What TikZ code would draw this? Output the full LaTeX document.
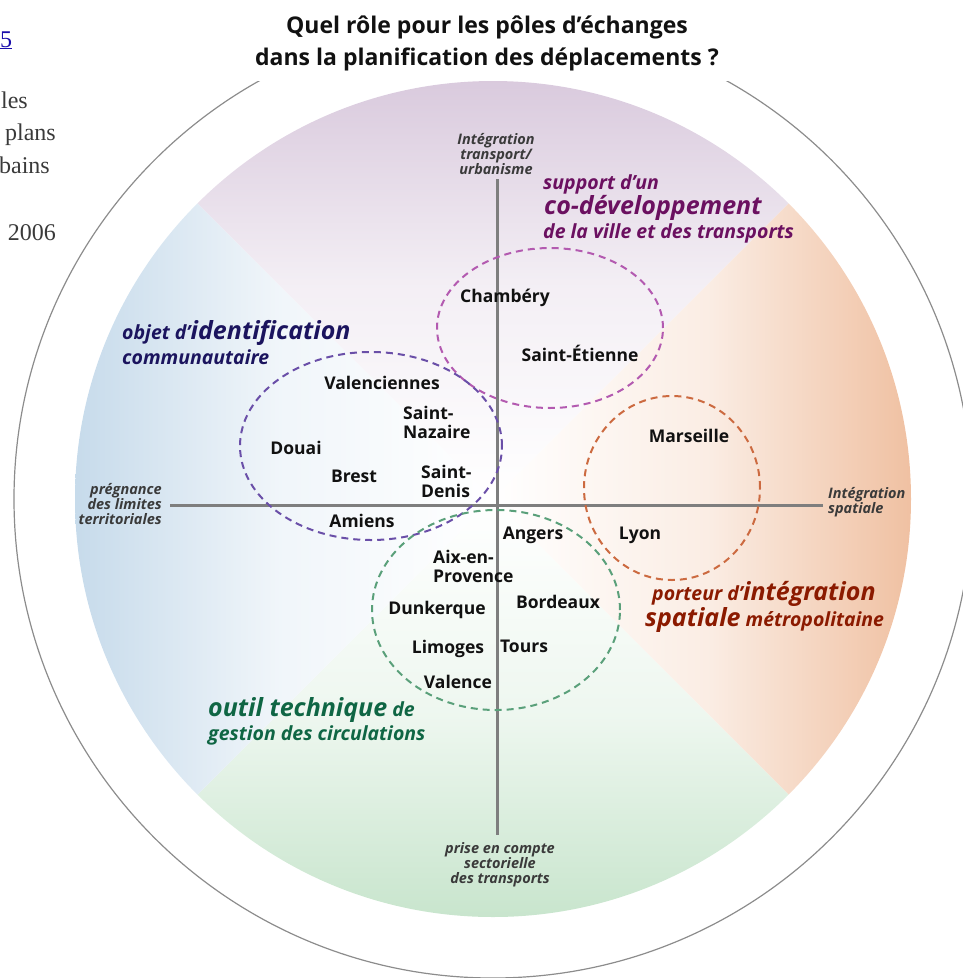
\documentclass[tikz,border=0pt]{standalone}
\usepackage{fontspec}
\setmainfont{Open Sans}
\newfontfamily\pagefont{Liberation Serif}
\usepackage{xcolor}
\usepackage{tikz}
\usetikzlibrary{positioning}
\definecolor{cInk}{HTML}{111111}
\definecolor{cAxTxt}{HTML}{3A3A3A}
\definecolor{cAxis}{HTML}{7E7E7E}
\definecolor{cRim}{HTML}{8C8C8C}
\definecolor{cMauve}{HTML}{D8C8DC}
\definecolor{cPeach}{HTML}{EFBE9E}
\definecolor{cMint}{HTML}{C6E4CB}
\definecolor{cSky}{HTML}{C4D9EA}
\definecolor{cPlum}{HTML}{6B1060}
\definecolor{cNavy}{HTML}{1B145E}
\definecolor{cBrick}{HTML}{8B1A00}
\definecolor{cPine}{HTML}{0F6644}
\definecolor{dPlum}{HTML}{B35AB0}
\definecolor{dNavy}{HTML}{6A4FA8}
\definecolor{dBrick}{HTML}{CC6A40}
\definecolor{dPine}{HTML}{5AA07A}
\definecolor{cLink}{HTML}{1A0DAB}
\tikzset{
  city/.style={font=\fontsize{17.5}{19}\selectfont\bfseries,text=cInk,inner sep=0pt,align=left,anchor=base},
  city2/.style={city,anchor=west},
  axlbl/.style={font=\fontsize{14.5}{15}\selectfont\bfseries\itshape,text=cAxTxt,inner sep=0pt},
  grp/.style={draw=#1,dash pattern=on 7pt off 5pt,line width=2pt},
  role/.style={text=#1,font=\fontsize{19.5}{19.5}\selectfont\bfseries\itshape,inner sep=0pt,anchor=base west},
  big/.style={font=\fontsize{25}{25}\selectfont\bfseries\itshape},
  axisln/.style={draw=cAxis,line width=3pt},
  pagetxt/.style={font=\fontsize{24}{24}\selectfont\pagefont,text=cAxTxt,inner sep=0pt,anchor=base east},
}
\newcommand{\bigword}[1]{{\fontsize{25}{25}\selectfont #1}}

\begin{document}
\begin{tikzpicture}[x=1pt,y=-1pt]
  \useasboundingbox (0,0) rectangle (963,978);
  \coordinate (mid) at (493,499);
  % coloured disc, four sectors
  \begin{scope}
    \clip (mid) circle[radius=418pt];
    \shade[top color=cMauve,bottom color=white,middle color=cMauve!30] (mid) -- (63,69) -- (923,69) -- cycle;
    \shade[left color=white,right color=cPeach,middle color=cPeach!28] (mid) -- (923,69) -- (923,929) -- cycle;
    \shade[top color=white,bottom color=cMint,middle color=cMint!30] (mid) -- (923,929) -- (63,929) -- cycle;
    \shade[left color=cSky,right color=white,middle color=cSky!25] (mid) -- (63,929) -- (63,69) -- cycle;
  \end{scope}
  % outer ring, open under the title
  \begin{scope}
    \clip (0,81) rectangle (963,978);
    \draw[cRim,line width=1.2pt] (mid) circle[radius=479pt];
  \end{scope}
  \node[font=\fontsize{23}{32}\selectfont\bfseries,text=cInk,align=center,inner sep=0pt] (title) at (487,43)
    {Quel rôle pour les pôles d'échanges\\dans la planification des déplacements ?};
  % axes
  \coordinate (axW) at (170,505);
  \coordinate (axE) at (823,505);
  \coordinate (axN) at (497,179);
  \coordinate (axS) at (497,835);
  \draw[axisln] (axW) -- (axE);
  \draw[axisln] (axN) -- (axS);
  \node[axlbl,align=center] (lblN) at (496,154) {Intégration\\transport/\\urbanisme};
  \node[axlbl,align=right,anchor=east] (lblW) at (162,504) {prégnance\\des limites\\territoriales};
  \node[axlbl,align=left,anchor=west] (lblE) at (828,502) {Intégration\\spatiale};
  \node[axlbl,align=center] (lblS) at (500,865) {prise en compte\\sectorielle\\des transports};
  % groups
  \draw[grp=dPlum] (550,328) ellipse[x radius=113pt,y radius=80pt];
  \draw[grp=dNavy] (371,446) ellipse[x radius=131pt,y radius=94pt];
  \draw[grp=dBrick] (672,488) ellipse[x radius=88pt,y radius=92pt];
  \draw[grp=dPine] (496,610) ellipse[x radius=124pt,y radius=100pt];
  % cities
  \node[city] (chambery) at (505,302) {Chambéry};
  \node[city] (stetienne) at (580,361) {Saint-Étienne};
  \node[city] (valenciennes) at (382,389) {Valenciennes};
  \node[city2] (stnazaire) at (403,422) {Saint-\\Nazaire};
  \node[city] (douai) at (296,454) {Douai};
  \node[city] (brest) at (354,482) {Brest};
  \node[city2] (stdenis) at (421,481) {Saint-\\Denis};
  \node[city] (amiens) at (362,527) {Amiens};
  \node[city] (angers) at (533,539) {Angers};
  \node[city2] (aix) at (433,566) {Aix-en-\\Provence};
  \node[city] (dunkerque) at (437,614) {Dunkerque};
  \node[city] (bordeaux) at (558,608) {Bordeaux};
  \node[city] (limoges) at (448,653) {Limoges};
  \node[city] (tours) at (524,652) {Tours};
  \node[city] (valence) at (458,688) {Valence};
  \node[city] (marseille) at (689,442) {Marseille};
  \node[city] (lyon) at (640,539) {Lyon};
  % roles
  \node[role=cPlum] (supp1) at (543,189) {support d'un};
  \node[role=cPlum,big] (supp2) at (544,214) {co-développement};
  \node[role=cPlum] (supp3) at (543,238) {de la ville et des transports};
  \node[role=cNavy] (obj1) at (122,339) {objet d'\bigword{identification}};
  \node[role=cNavy] (obj2) at (122,364) {communautaire};
  \node[role=cBrick] (port1) at (652,600) {porteur d'\bigword{intégration}};
  \node[role=cBrick] (port2) at (645,626) {\bigword{spatiale} métropolitaine};
  \node[role=cPine] (outil1) at (208,716) {\bigword{outil technique} de};
  \node[role=cPine] (outil2) at (208,740) {gestion des circulations};
  % page text cut by the frame
  \node[pagetxt,text=cLink,anchor=base west] (pg0) at (0,47) {\underline{5}};
  \node[pagetxt] (pg1) at (28,108) {les};
  \node[pagetxt] (pg2) at (56,140) {plans};
  \node[pagetxt] (pg3) at (50,173) {bains};
  \node[pagetxt] (pg4) at (56,240) {2006};
\end{tikzpicture}
\end{document}
